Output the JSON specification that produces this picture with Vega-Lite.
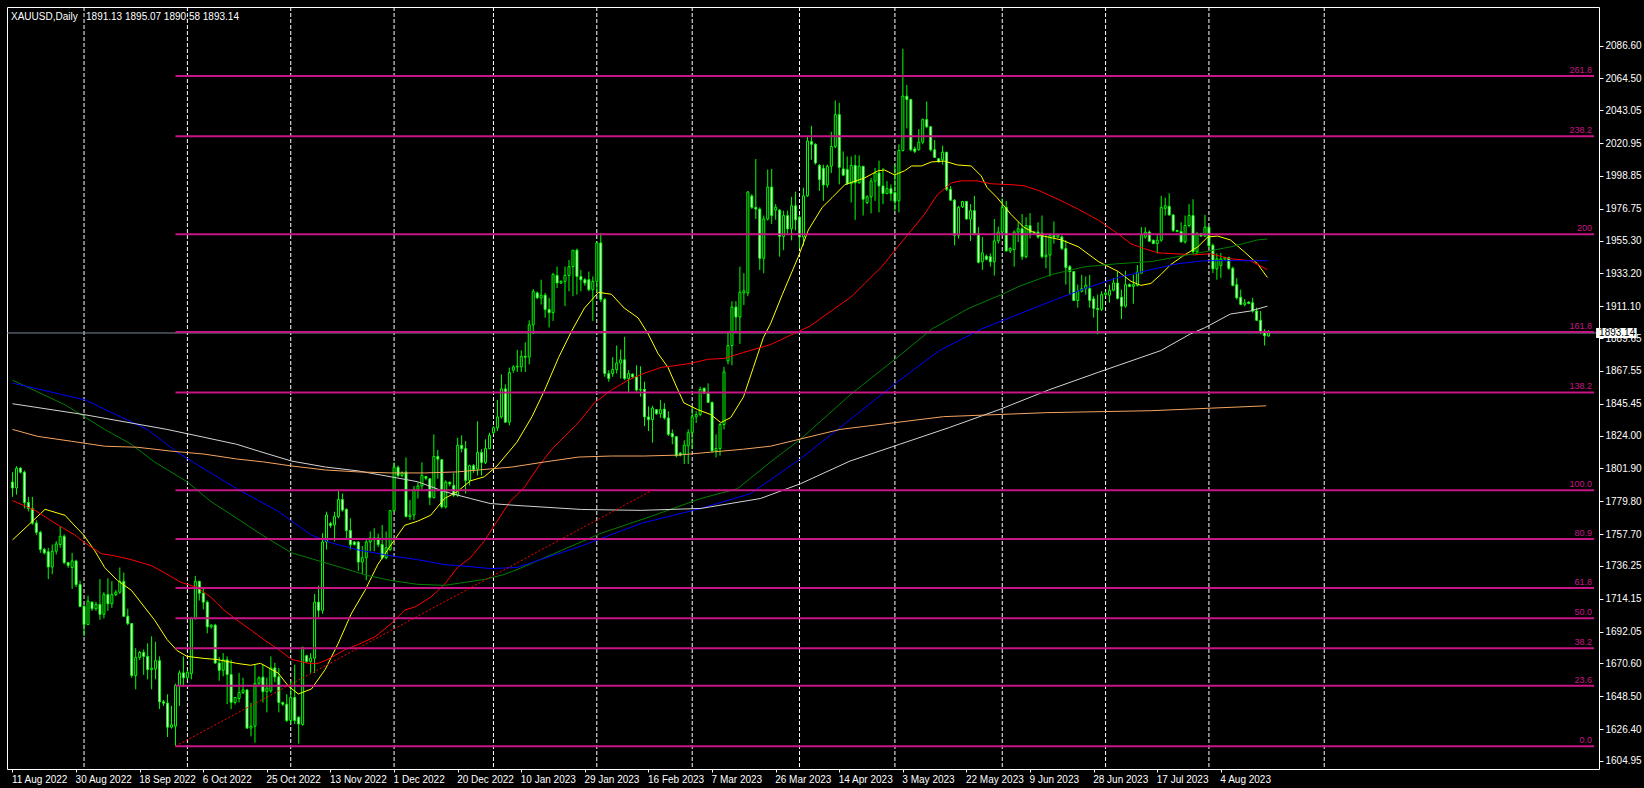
{
"$schema":"https://vega.github.io/schema/vega-lite/v6.json",
"width":1592,"height":762,
"autosize":{"type":"none"},
"padding":{"left":7,"top":7,"right":45,"bottom":19},
"background":"#000000",
"title":{"text":"XAUUSD,Daily\u00a0\u00a0 1891.13 1895.07 1890.58 1893.14","anchor":"start","frame":"group","orient":"top","offset":0,"dx":4,"dy":23,"color":"#FFFFFF","font":"Liberation Sans, Arial, sans-serif","fontSize":10,"fontWeight":"normal","baseline":"alphabetic"},
"datasets":{
"months":[{"i":18},{"i":44},{"i":70},{"i":96},{"i":121},{"i":147},{"i":171},{"i":198},{"i":222},{"i":249},{"i":275},{"i":301},{"i":330}],
"bid":[{"p":1893.14}],
"fib":[{"lvl":"0.0","p":1614.9},{"lvl":"23.6","p":1655.6},{"lvl":"38.2","p":1680.8},{"lvl":"50.0","p":1701.1},{"lvl":"61.8","p":1721.4},{"lvl":"80.9","p":1754.4},{"lvl":"100.0","p":1787.3},{"lvl":"138.2","p":1853.1},{"lvl":"161.8","p":1893.8},{"lvl":"200","p":1959.7},{"lvl":"238.2","p":2025.6},{"lvl":"261.8","p":2066.2}],
"fibline":[{"i1":41,"p1":1614.9,"i2":161,"p2":1787.3}],
"candles":[
{"i":0,"o":1792.8,"h":1799.4,"l":1782.8,"c":1788.8},
{"i":1,"o":1788.8,"h":1803.5,"l":1784.3,"c":1802.1},
{"i":2,"o":1802.1,"h":1802.8,"l":1798.5,"c":1799.4},
{"i":3,"o":1799.4,"h":1800.5,"l":1775.0,"c":1779.0},
{"i":4,"o":1779.0,"h":1782.8,"l":1773.0,"c":1775.0},
{"i":5,"o":1775.0,"h":1782.8,"l":1764.0,"c":1765.1},
{"i":6,"o":1765.1,"h":1767.0,"l":1757.0,"c":1758.9},
{"i":7,"o":1758.9,"h":1760.0,"l":1745.1,"c":1747.4},
{"i":8,"o":1747.4,"h":1748.5,"l":1744.0,"c":1745.1},
{"i":9,"o":1745.8,"h":1748.5,"l":1727.4,"c":1735.6},
{"i":10,"o":1735.6,"h":1750.7,"l":1730.7,"c":1746.2},
{"i":11,"o":1746.2,"h":1753.0,"l":1744.0,"c":1751.1},
{"i":12,"o":1750.7,"h":1762.8,"l":1748.5,"c":1756.2},
{"i":13,"o":1756.2,"h":1757.5,"l":1737.4,"c":1738.5},
{"i":14,"o":1738.5,"h":1739.0,"l":1735.0,"c":1736.7},
{"i":15,"o":1735.2,"h":1745.1,"l":1720.8,"c":1739.6},
{"i":16,"o":1739.6,"h":1740.5,"l":1722.0,"c":1723.7},
{"i":17,"o":1723.7,"h":1726.3,"l":1708.5,"c":1709.0},
{"i":18,"o":1709.0,"h":1710.0,"l":1689.1,"c":1696.9},
{"i":19,"o":1696.9,"h":1716.3,"l":1696.4,"c":1712.6},
{"i":20,"o":1711.9,"h":1712.5,"l":1706.0,"c":1707.5},
{"i":21,"o":1707.5,"h":1712.0,"l":1706.0,"c":1710.4},
{"i":22,"o":1710.4,"h":1727.4,"l":1700.0,"c":1703.7},
{"i":23,"o":1703.7,"h":1718.6,"l":1701.0,"c":1717.0},
{"i":24,"o":1717.0,"h":1728.0,"l":1706.0,"c":1710.8},
{"i":25,"o":1710.8,"h":1726.0,"l":1708.0,"c":1717.0},
{"i":26,"o":1717.0,"h":1720.0,"l":1716.0,"c":1718.6},
{"i":27,"o":1718.6,"h":1735.2,"l":1717.5,"c":1725.9},
{"i":28,"o":1725.9,"h":1731.8,"l":1701.9,"c":1702.4},
{"i":29,"o":1702.4,"h":1707.5,"l":1696.4,"c":1697.5},
{"i":30,"o":1697.5,"h":1697.9,"l":1661.0,"c":1662.5},
{"i":31,"o":1662.5,"h":1680.9,"l":1653.2,"c":1674.7},
{"i":32,"o":1674.7,"h":1679.0,"l":1673.0,"c":1678.0},
{"i":33,"o":1678.0,"h":1680.0,"l":1663.0,"c":1675.4},
{"i":34,"o":1675.4,"h":1684.2,"l":1659.9,"c":1666.5},
{"i":35,"o":1666.5,"h":1688.9,"l":1653.2,"c":1667.4},
{"i":36,"o":1666.9,"h":1685.3,"l":1659.9,"c":1672.5},
{"i":37,"o":1672.5,"h":1675.4,"l":1639.9,"c":1644.8},
{"i":38,"o":1644.8,"h":1646.0,"l":1642.0,"c":1643.9},
{"i":39,"o":1643.9,"h":1649.9,"l":1621.1,"c":1627.7},
{"i":40,"o":1627.7,"h":1642.1,"l":1626.8,"c":1629.3},
{"i":41,"o":1628.4,"h":1657.0,"l":1614.9,"c":1655.9},
{"i":42,"o":1655.9,"h":1666.0,"l":1642.0,"c":1664.3},
{"i":43,"o":1664.3,"h":1675.4,"l":1655.0,"c":1661.0},
{"i":44,"o":1661.0,"h":1666.0,"l":1660.0,"c":1664.7},
{"i":45,"o":1663.8,"h":1702.0,"l":1659.9,"c":1700.8},
{"i":46,"o":1700.8,"h":1729.6,"l":1700.2,"c":1725.9},
{"i":47,"o":1725.9,"h":1726.3,"l":1713.0,"c":1717.9},
{"i":48,"o":1717.9,"h":1722.0,"l":1707.0,"c":1711.9},
{"i":49,"o":1711.9,"h":1713.0,"l":1690.9,"c":1695.3},
{"i":50,"o":1695.3,"h":1697.0,"l":1694.0,"c":1696.4},
{"i":51,"o":1696.4,"h":1697.3,"l":1670.4,"c":1670.9},
{"i":52,"o":1670.9,"h":1675.0,"l":1659.0,"c":1666.0},
{"i":53,"o":1666.0,"h":1677.6,"l":1662.0,"c":1673.0},
{"i":54,"o":1673.0,"h":1675.4,"l":1643.2,"c":1663.2},
{"i":55,"o":1663.2,"h":1673.1,"l":1639.9,"c":1644.4},
{"i":56,"o":1644.4,"h":1648.0,"l":1643.0,"c":1647.7},
{"i":57,"o":1647.0,"h":1664.3,"l":1644.4,"c":1651.0},
{"i":58,"o":1651.0,"h":1661.0,"l":1650.0,"c":1652.8},
{"i":59,"o":1652.8,"h":1653.2,"l":1626.6,"c":1627.1},
{"i":60,"o":1627.1,"h":1644.0,"l":1621.5,"c":1628.4},
{"i":61,"o":1628.4,"h":1669.8,"l":1617.3,"c":1657.2},
{"i":62,"o":1657.2,"h":1662.0,"l":1656.0,"c":1660.9},
{"i":63,"o":1661.4,"h":1669.8,"l":1644.3,"c":1651.6},
{"i":64,"o":1651.6,"h":1661.0,"l":1637.7,"c":1654.0},
{"i":65,"o":1652.1,"h":1675.4,"l":1650.9,"c":1667.6},
{"i":66,"o":1667.6,"h":1671.0,"l":1658.0,"c":1661.6},
{"i":67,"o":1661.6,"h":1667.6,"l":1637.7,"c":1644.3},
{"i":68,"o":1644.3,"h":1645.0,"l":1642.0,"c":1643.2},
{"i":69,"o":1643.2,"h":1649.9,"l":1631.1,"c":1632.2},
{"i":70,"o":1632.2,"h":1658.7,"l":1629.9,"c":1647.7},
{"i":71,"o":1647.7,"h":1669.8,"l":1629.9,"c":1632.2},
{"i":72,"o":1634.4,"h":1635.0,"l":1616.6,"c":1629.9},
{"i":73,"o":1629.5,"h":1682.0,"l":1628.8,"c":1681.3},
{"i":74,"o":1675.8,"h":1676.5,"l":1671.0,"c":1672.0},
{"i":75,"o":1672.0,"h":1677.6,"l":1664.3,"c":1674.2},
{"i":76,"o":1674.2,"h":1717.4,"l":1664.3,"c":1711.9},
{"i":77,"o":1711.9,"h":1723.0,"l":1701.9,"c":1706.4},
{"i":78,"o":1706.4,"h":1758.4,"l":1704.1,"c":1752.4},
{"i":79,"o":1752.4,"h":1772.8,"l":1747.3,"c":1770.6},
{"i":80,"o":1764.8,"h":1766.0,"l":1762.0,"c":1763.5},
{"i":81,"o":1763.9,"h":1772.8,"l":1752.9,"c":1769.5},
{"i":82,"o":1769.5,"h":1787.2,"l":1768.4,"c":1781.0},
{"i":83,"o":1781.0,"h":1785.0,"l":1772.8,"c":1773.9},
{"i":84,"o":1774.4,"h":1775.0,"l":1755.1,"c":1760.2},
{"i":85,"o":1760.2,"h":1768.4,"l":1747.3,"c":1750.7},
{"i":86,"o":1752.4,"h":1753.0,"l":1750.0,"c":1750.7},
{"i":87,"o":1752.4,"h":1752.9,"l":1732.9,"c":1738.9},
{"i":88,"o":1738.9,"h":1749.6,"l":1730.7,"c":1741.8},
{"i":89,"o":1741.8,"h":1755.1,"l":1726.7,"c":1752.4},
{"i":90,"o":1752.4,"h":1759.5,"l":1746.2,"c":1755.1},
{"i":91,"o":1755.1,"h":1761.7,"l":1746.2,"c":1754.0},
{"i":92,"o":1755.1,"h":1758.0,"l":1749.0,"c":1750.7},
{"i":93,"o":1750.7,"h":1763.9,"l":1740.7,"c":1741.8},
{"i":94,"o":1741.8,"h":1759.5,"l":1740.7,"c":1748.5},
{"i":95,"o":1747.3,"h":1774.0,"l":1746.2,"c":1773.5},
{"i":96,"o":1773.5,"h":1806.0,"l":1772.8,"c":1802.7},
{"i":97,"o":1802.7,"h":1803.8,"l":1796.1,"c":1797.2},
{"i":98,"o":1797.2,"h":1800.0,"l":1796.0,"c":1799.0},
{"i":99,"o":1799.5,"h":1809.4,"l":1769.0,"c":1769.5},
{"i":100,"o":1769.5,"h":1780.6,"l":1767.3,"c":1770.6},
{"i":101,"o":1770.6,"h":1790.1,"l":1767.3,"c":1787.9},
{"i":102,"o":1787.9,"h":1792.7,"l":1781.7,"c":1790.1},
{"i":103,"o":1790.1,"h":1806.0,"l":1788.0,"c":1797.2},
{"i":104,"o":1796.5,"h":1797.0,"l":1794.0,"c":1795.4},
{"i":105,"o":1795.0,"h":1795.5,"l":1777.2,"c":1782.3},
{"i":106,"o":1782.3,"h":1824.9,"l":1781.7,"c":1810.0},
{"i":107,"o":1810.0,"h":1814.4,"l":1795.0,"c":1808.2},
{"i":108,"o":1807.8,"h":1808.2,"l":1775.0,"c":1776.1},
{"i":109,"o":1776.1,"h":1793.9,"l":1775.0,"c":1792.7},
{"i":110,"o":1792.7,"h":1793.0,"l":1790.0,"c":1791.6},
{"i":111,"o":1790.5,"h":1799.0,"l":1782.8,"c":1783.9},
{"i":112,"o":1783.9,"h":1822.6,"l":1782.8,"c":1817.5},
{"i":113,"o":1817.5,"h":1824.2,"l":1812.7,"c":1815.3},
{"i":114,"o":1815.3,"h":1820.4,"l":1785.0,"c":1793.9},
{"i":115,"o":1793.9,"h":1804.5,"l":1790.5,"c":1803.8},
{"i":116,"o":1803.8,"h":1804.9,"l":1799.0,"c":1801.1},
{"i":117,"o":1801.6,"h":1833.7,"l":1797.2,"c":1812.7},
{"i":118,"o":1812.7,"h":1814.9,"l":1797.2,"c":1806.0},
{"i":119,"o":1806.0,"h":1821.5,"l":1804.9,"c":1815.3},
{"i":120,"o":1815.3,"h":1826.0,"l":1814.9,"c":1824.2},
{"i":121,"o":1826.0,"h":1830.4,"l":1824.9,"c":1829.3},
{"i":122,"o":1829.3,"h":1848.1,"l":1827.1,"c":1836.6},
{"i":123,"o":1836.6,"h":1865.3,"l":1835.5,"c":1855.5},
{"i":124,"o":1855.5,"h":1858.5,"l":1832.6,"c":1833.1},
{"i":125,"o":1833.1,"h":1869.8,"l":1830.9,"c":1866.5},
{"i":126,"o":1868.1,"h":1871.4,"l":1866.3,"c":1870.3},
{"i":127,"o":1870.3,"h":1881.8,"l":1866.9,"c":1870.7},
{"i":128,"o":1870.3,"h":1881.4,"l":1866.9,"c":1877.4},
{"i":129,"o":1877.4,"h":1886.9,"l":1866.9,"c":1876.9},
{"i":130,"o":1876.9,"h":1901.7,"l":1872.0,"c":1898.6},
{"i":131,"o":1898.6,"h":1922.8,"l":1892.4,"c":1921.2},
{"i":132,"o":1920.1,"h":1921.0,"l":1916.0,"c":1916.8},
{"i":133,"o":1916.8,"h":1929.0,"l":1912.3,"c":1918.6},
{"i":134,"o":1918.6,"h":1920.1,"l":1903.5,"c":1909.0},
{"i":135,"o":1909.0,"h":1916.8,"l":1896.9,"c":1906.8},
{"i":136,"o":1906.8,"h":1933.4,"l":1901.3,"c":1932.7},
{"i":137,"o":1931.9,"h":1937.8,"l":1923.4,"c":1926.8},
{"i":138,"o":1926.8,"h":1928.5,"l":1926.1,"c":1927.9},
{"i":139,"o":1927.9,"h":1937.8,"l":1911.2,"c":1931.9},
{"i":140,"o":1931.9,"h":1942.3,"l":1921.2,"c":1937.8},
{"i":141,"o":1937.8,"h":1949.0,"l":1917.9,"c":1948.9},
{"i":142,"o":1948.9,"h":1950.0,"l":1919.0,"c":1931.2},
{"i":143,"o":1931.2,"h":1935.6,"l":1921.2,"c":1929.0},
{"i":144,"o":1929.0,"h":1930.1,"l":1925.0,"c":1926.8},
{"i":145,"o":1929.0,"h":1934.5,"l":1921.2,"c":1922.3},
{"i":146,"o":1922.3,"h":1931.2,"l":1901.3,"c":1927.9},
{"i":147,"o":1927.9,"h":1954.5,"l":1921.2,"c":1953.8},
{"i":148,"o":1953.8,"h":1960.4,"l":1914.0,"c":1915.7},
{"i":149,"o":1915.7,"h":1916.8,"l":1863.6,"c":1865.8},
{"i":150,"o":1865.8,"h":1868.1,"l":1860.3,"c":1862.5},
{"i":151,"o":1865.8,"h":1876.9,"l":1863.6,"c":1868.5},
{"i":152,"o":1868.5,"h":1884.7,"l":1865.8,"c":1872.9},
{"i":153,"o":1872.9,"h":1882.0,"l":1862.5,"c":1875.1},
{"i":154,"o":1875.1,"h":1890.6,"l":1861.4,"c":1862.5},
{"i":155,"o":1862.5,"h":1868.1,"l":1853.0,"c":1865.8},
{"i":156,"o":1865.4,"h":1866.0,"l":1863.0,"c":1863.6},
{"i":157,"o":1863.6,"h":1871.4,"l":1853.6,"c":1854.7},
{"i":158,"o":1854.7,"h":1870.7,"l":1850.3,"c":1855.2},
{"i":159,"o":1855.2,"h":1860.3,"l":1830.4,"c":1836.6},
{"i":160,"o":1836.6,"h":1843.7,"l":1827.1,"c":1834.8},
{"i":161,"o":1834.8,"h":1844.1,"l":1819.3,"c":1842.6},
{"i":162,"o":1841.5,"h":1842.0,"l":1838.0,"c":1838.8},
{"i":163,"o":1838.8,"h":1848.1,"l":1835.9,"c":1841.5},
{"i":164,"o":1841.9,"h":1845.9,"l":1834.8,"c":1835.9},
{"i":165,"o":1835.9,"h":1840.4,"l":1823.8,"c":1824.9},
{"i":166,"o":1825.5,"h":1828.2,"l":1818.2,"c":1823.3},
{"i":167,"o":1823.3,"h":1823.8,"l":1809.4,"c":1810.5},
{"i":168,"o":1812.2,"h":1813.0,"l":1810.0,"c":1810.9},
{"i":169,"o":1811.6,"h":1820.9,"l":1804.9,"c":1817.6},
{"i":170,"o":1817.1,"h":1828.2,"l":1804.9,"c":1826.0},
{"i":171,"o":1826.0,"h":1843.7,"l":1814.9,"c":1836.6},
{"i":172,"o":1836.6,"h":1840.4,"l":1832.6,"c":1838.2},
{"i":173,"o":1838.2,"h":1857.0,"l":1837.0,"c":1855.2},
{"i":174,"o":1855.9,"h":1856.5,"l":1852.1,"c":1852.6},
{"i":175,"o":1852.6,"h":1859.2,"l":1846.0,"c":1846.4},
{"i":176,"o":1846.4,"h":1847.0,"l":1812.7,"c":1813.8},
{"i":177,"o":1813.8,"h":1824.9,"l":1809.4,"c":1815.3},
{"i":178,"o":1815.3,"h":1832.6,"l":1810.5,"c":1831.5},
{"i":179,"o":1831.5,"h":1870.3,"l":1828.2,"c":1866.9},
{"i":180,"o":1874.3,"h":1894.6,"l":1872.0,"c":1884.7},
{"i":181,"o":1884.7,"h":1914.6,"l":1871.4,"c":1910.6},
{"i":182,"o":1910.6,"h":1914.6,"l":1894.6,"c":1903.9},
{"i":183,"o":1903.9,"h":1937.8,"l":1885.8,"c":1920.6},
{"i":184,"o":1920.1,"h":1933.4,"l":1912.0,"c":1921.5},
{"i":185,"o":1920.1,"h":1988.6,"l":1917.9,"c":1988.1},
{"i":186,"o":1985.4,"h":1986.6,"l":1976.6,"c":1977.7},
{"i":187,"o":1977.7,"h":2010.3,"l":1969.9,"c":1976.6},
{"i":188,"o":1976.6,"h":1977.7,"l":1935.6,"c":1943.4},
{"i":189,"o":1943.4,"h":1972.2,"l":1933.4,"c":1969.9},
{"i":190,"o":1969.9,"h":2003.2,"l":1968.9,"c":1991.4},
{"i":191,"o":1991.4,"h":2003.6,"l":1966.6,"c":1972.2},
{"i":192,"o":1975.9,"h":1979.9,"l":1969.3,"c":1977.7},
{"i":193,"o":1975.9,"h":1976.5,"l":1944.5,"c":1958.2},
{"i":194,"o":1958.2,"h":1975.5,"l":1948.9,"c":1972.2},
{"i":195,"o":1972.2,"h":1975.5,"l":1960.0,"c":1963.3},
{"i":196,"o":1963.3,"h":1984.8,"l":1955.5,"c":1978.8},
{"i":197,"o":1978.8,"h":1988.3,"l":1962.2,"c":1969.3},
{"i":198,"o":1971.1,"h":1972.2,"l":1950.0,"c":1957.8},
{"i":199,"o":1957.8,"h":1991.0,"l":1952.0,"c":1985.5},
{"i":200,"o":1985.5,"h":2025.3,"l":1984.8,"c":2022.4},
{"i":201,"o":2022.0,"h":2032.6,"l":2009.8,"c":2020.2},
{"i":202,"o":2020.2,"h":2020.9,"l":2006.5,"c":2007.6},
{"i":203,"o":2006.0,"h":2006.9,"l":1988.8,"c":1996.5},
{"i":204,"o":2004.0,"h":2006.5,"l":1982.1,"c":1992.8},
{"i":205,"o":1992.8,"h":2006.5,"l":1991.0,"c":2005.4},
{"i":206,"o":2005.4,"h":2028.6,"l":2000.9,"c":2018.7},
{"i":207,"o":2018.7,"h":2049.7,"l":2017.6,"c":2040.2},
{"i":208,"o":2040.2,"h":2048.1,"l":1993.2,"c":2004.7},
{"i":209,"o":2003.6,"h":2015.4,"l":1998.7,"c":1999.4},
{"i":210,"o":2003.2,"h":2012.0,"l":1993.0,"c":1993.6},
{"i":211,"o":1993.6,"h":2012.0,"l":1981.0,"c":2006.0},
{"i":212,"o":2006.0,"h":2013.1,"l":1969.3,"c":1994.3},
{"i":213,"o":1994.3,"h":2012.7,"l":1993.6,"c":2005.4},
{"i":214,"o":2005.4,"h":2005.4,"l":1972.2,"c":1983.2},
{"i":215,"o":1981.0,"h":1985.9,"l":1979.9,"c":1984.8},
{"i":216,"o":1984.8,"h":1997.6,"l":1973.7,"c":1995.4},
{"i":217,"o":1995.4,"h":2004.3,"l":1982.1,"c":2000.9},
{"i":218,"o":2000.9,"h":2009.2,"l":1974.4,"c":1992.1},
{"i":219,"o":1992.1,"h":2004.3,"l":1979.9,"c":1987.0},
{"i":220,"o":1987.0,"h":1995.4,"l":1986.6,"c":1990.3},
{"i":221,"o":1990.3,"h":1993.2,"l":1982.1,"c":1987.0},
{"i":222,"o":1987.7,"h":2006.5,"l":1975.5,"c":1981.7},
{"i":223,"o":1982.1,"h":2020.2,"l":1974.4,"c":2016.0},
{"i":224,"o":2016.0,"h":2084.5,"l":2015.4,"c":2052.6},
{"i":225,"o":2052.6,"h":2060.1,"l":2030.9,"c":2050.3},
{"i":226,"o":2050.3,"h":2050.8,"l":2015.4,"c":2016.5},
{"i":227,"o":2017.1,"h":2018.7,"l":2014.2,"c":2015.4},
{"i":228,"o":2016.5,"h":2030.4,"l":2016.0,"c":2021.6},
{"i":229,"o":2021.6,"h":2037.5,"l":2020.2,"c":2036.8},
{"i":230,"o":2036.8,"h":2049.0,"l":2031.0,"c":2032.0},
{"i":231,"o":2032.0,"h":2032.5,"l":2015.4,"c":2016.5},
{"i":232,"o":2016.5,"h":2023.1,"l":2010.9,"c":2011.4},
{"i":233,"o":2010.5,"h":2011.0,"l":2008.0,"c":2008.3},
{"i":234,"o":2009.8,"h":2019.3,"l":2006.5,"c":2014.9},
{"i":235,"o":2014.9,"h":2015.0,"l":1988.8,"c":1989.9},
{"i":236,"o":1989.9,"h":1992.1,"l":1982.1,"c":1982.6},
{"i":237,"o":1982.6,"h":1983.2,"l":1952.2,"c":1958.9},
{"i":238,"o":1958.9,"h":1978.8,"l":1956.7,"c":1977.7},
{"i":239,"o":1978.1,"h":1982.1,"l":1977.3,"c":1981.7},
{"i":240,"o":1981.7,"h":1982.1,"l":1969.3,"c":1969.9},
{"i":241,"o":1969.9,"h":1979.9,"l":1955.1,"c":1975.5},
{"i":242,"o":1975.5,"h":1985.5,"l":1958.9,"c":1960.0},
{"i":243,"o":1960.0,"h":1964.4,"l":1940.0,"c":1940.7},
{"i":244,"o":1941.1,"h":1957.8,"l":1935.6,"c":1947.1},
{"i":245,"o":1944.9,"h":1946.0,"l":1942.0,"c":1942.7},
{"i":246,"o":1944.5,"h":1946.7,"l":1937.8,"c":1941.1},
{"i":247,"o":1941.1,"h":1969.9,"l":1931.8,"c":1955.1},
{"i":248,"o":1955.1,"h":1964.8,"l":1953.3,"c":1961.1},
{"i":249,"o":1961.1,"h":1983.7,"l":1958.9,"c":1977.7},
{"i":250,"o":1977.7,"h":1982.1,"l":1947.8,"c":1948.4},
{"i":251,"o":1948.4,"h":1951.0,"l":1947.0,"c":1950.0},
{"i":252,"o":1949.3,"h":1962.2,"l":1937.8,"c":1961.1},
{"i":253,"o":1961.1,"h":1967.7,"l":1954.4,"c":1963.3},
{"i":254,"o":1963.3,"h":1973.3,"l":1942.3,"c":1944.5},
{"i":255,"o":1944.5,"h":1971.1,"l":1943.4,"c":1965.5},
{"i":256,"o":1965.5,"h":1973.9,"l":1956.7,"c":1960.6},
{"i":257,"o":1960.6,"h":1962.0,"l":1959.5,"c":1961.1},
{"i":258,"o":1961.1,"h":1967.7,"l":1956.7,"c":1957.8},
{"i":259,"o":1960.4,"h":1972.2,"l":1943.4,"c":1944.5},
{"i":260,"o":1944.5,"h":1958.9,"l":1936.7,"c":1945.6},
{"i":261,"o":1945.6,"h":1960.0,"l":1931.2,"c":1958.9},
{"i":262,"o":1958.9,"h":1968.2,"l":1953.3,"c":1957.8},
{"i":263,"o":1957.8,"h":1959.5,"l":1957.0,"c":1958.9},
{"i":264,"o":1957.8,"h":1958.9,"l":1948.9,"c":1950.0},
{"i":265,"o":1950.0,"h":1955.6,"l":1925.7,"c":1937.2},
{"i":266,"o":1937.8,"h":1938.9,"l":1919.0,"c":1934.5},
{"i":267,"o":1934.5,"h":1934.5,"l":1914.6,"c":1915.0},
{"i":268,"o":1915.0,"h":1925.7,"l":1910.2,"c":1921.2},
{"i":269,"o":1921.2,"h":1932.3,"l":1920.5,"c":1923.0},
{"i":270,"o":1923.0,"h":1931.2,"l":1919.0,"c":1925.2},
{"i":271,"o":1923.0,"h":1932.3,"l":1910.2,"c":1915.0},
{"i":272,"o":1916.1,"h":1917.9,"l":1903.5,"c":1909.7},
{"i":273,"o":1909.7,"h":1919.0,"l":1892.4,"c":1909.0},
{"i":274,"o":1909.0,"h":1921.2,"l":1907.9,"c":1919.0},
{"i":275,"o":1919.0,"h":1921.0,"l":1918.0,"c":1920.1},
{"i":276,"o":1918.6,"h":1925.7,"l":1913.5,"c":1921.9},
{"i":277,"o":1921.9,"h":1930.1,"l":1921.2,"c":1926.8},
{"i":278,"o":1926.8,"h":1934.5,"l":1915.7,"c":1916.4},
{"i":279,"o":1917.2,"h":1922.3,"l":1902.4,"c":1911.2},
{"i":280,"o":1911.2,"h":1935.0,"l":1910.2,"c":1925.7},
{"i":281,"o":1925.7,"h":1926.5,"l":1924.0,"c":1924.5},
{"i":282,"o":1924.5,"h":1932.3,"l":1912.8,"c":1925.7},
{"i":283,"o":1925.2,"h":1938.9,"l":1924.5,"c":1934.1},
{"i":284,"o":1933.4,"h":1964.4,"l":1933.4,"c":1958.9},
{"i":285,"o":1957.8,"h":1964.4,"l":1956.7,"c":1961.1},
{"i":286,"o":1961.1,"h":1962.2,"l":1954.5,"c":1954.9},
{"i":287,"o":1955.6,"h":1956.0,"l":1953.0,"c":1953.3},
{"i":288,"o":1953.3,"h":1960.0,"l":1946.7,"c":1955.6},
{"i":289,"o":1955.6,"h":1985.5,"l":1954.5,"c":1977.7},
{"i":290,"o":1977.0,"h":1984.3,"l":1972.2,"c":1978.8},
{"i":291,"o":1978.4,"h":1987.2,"l":1972.2,"c":1972.6},
{"i":292,"o":1972.6,"h":1973.3,"l":1961.1,"c":1962.2},
{"i":293,"o":1962.2,"h":1962.5,"l":1961.0,"c":1961.5},
{"i":294,"o":1961.5,"h":1967.7,"l":1954.0,"c":1954.5},
{"i":295,"o":1954.5,"h":1972.2,"l":1953.3,"c":1965.5},
{"i":296,"o":1965.5,"h":1979.9,"l":1964.4,"c":1972.2},
{"i":297,"o":1972.2,"h":1983.2,"l":1946.7,"c":1947.8},
{"i":298,"o":1947.8,"h":1961.1,"l":1945.6,"c":1960.0},
{"i":299,"o":1960.0,"h":1960.5,"l":1958.0,"c":1958.4},
{"i":300,"o":1958.4,"h":1972.6,"l":1957.8,"c":1964.4},
{"i":301,"o":1964.4,"h":1964.5,"l":1950.0,"c":1951.8},
{"i":302,"o":1952.2,"h":1953.3,"l":1933.4,"c":1936.3},
{"i":303,"o":1936.3,"h":1946.7,"l":1929.0,"c":1943.0},
{"i":304,"o":1938.5,"h":1947.1,"l":1930.1,"c":1943.0},
{"i":305,"o":1943.0,"h":1944.5,"l":1942.5,"c":1943.8},
{"i":306,"o":1943.8,"h":1944.5,"l":1935.6,"c":1936.7},
{"i":307,"o":1936.7,"h":1937.8,"l":1924.5,"c":1925.2},
{"i":308,"o":1925.7,"h":1930.1,"l":1915.7,"c":1916.8},
{"i":309,"o":1917.2,"h":1922.3,"l":1912.0,"c":1912.4},
{"i":310,"o":1912.4,"h":1916.0,"l":1911.0,"c":1913.5},
{"i":311,"o":1913.9,"h":1914.5,"l":1912.5,"c":1913.0},
{"i":312,"o":1913.5,"h":1916.8,"l":1906.8,"c":1907.9},
{"i":313,"o":1907.9,"h":1910.2,"l":1901.3,"c":1901.7},
{"i":314,"o":1901.7,"h":1907.9,"l":1892.4,"c":1893.5},
{"i":315,"o":1893.8,"h":1895.7,"l":1884.7,"c":1891.3},
{"i":316,"o":1891.13,"h":1895.07,"l":1890.58,"c":1893.14}
],
"ma":[
{"s":"yellow","i":0,"v":1753.8},{"s":"yellow","i":8.2,"v":1774.4},{"s":"yellow","i":13.2,"v":1770.4},{"s":"yellow","i":16.2,"v":1761.8},{"s":"yellow","i":17.9,"v":1757.1},{"s":"yellow","i":20.7,"v":1746.5},{"s":"yellow","i":23.2,"v":1735.2},{"s":"yellow","i":26.4,"v":1726.5},{"s":"yellow","i":29.9,"v":1719.9},{"s":"yellow","i":33.2,"v":1708.6},{"s":"yellow","i":35.7,"v":1700},{"s":"yellow","i":38.9,"v":1686.7},{"s":"yellow","i":41.4,"v":1679.3},{"s":"yellow","i":43.9,"v":1675.4},{"s":"yellow","i":48.2,"v":1674},{"s":"yellow","i":51.4,"v":1673.3},{"s":"yellow","i":56.4,"v":1670.7},{"s":"yellow","i":59.9,"v":1669.4},{"s":"yellow","i":62.4,"v":1670.7},{"s":"yellow","i":66.9,"v":1664},{"s":"yellow","i":69.4,"v":1655.4},{"s":"yellow","i":71.9,"v":1650.1},{"s":"yellow","i":75.2,"v":1653.4},{"s":"yellow","i":78.7,"v":1666.7},{"s":"yellow","i":81.9,"v":1683.9},{"s":"yellow","i":85.2,"v":1703.9},{"s":"yellow","i":88.7,"v":1719.9},{"s":"yellow","i":91.9,"v":1737.2},{"s":"yellow","i":95.2,"v":1750.4},{"s":"yellow","i":98.7,"v":1763.7},{"s":"yellow","i":101.9,"v":1766.4},{"s":"yellow","i":105.2,"v":1770.4},{"s":"yellow","i":108.7,"v":1781.7},{"s":"yellow","i":111.9,"v":1786.3},{"s":"yellow","i":115.2,"v":1793.6},{"s":"yellow","i":118.7,"v":1796.3},{"s":"yellow","i":121.9,"v":1803.6},{"s":"yellow","i":126.9,"v":1819.6},{"s":"yellow","i":130.7,"v":1836.8},{"s":"yellow","i":133.9,"v":1854.8},{"s":"yellow","i":137.4,"v":1876.7},{"s":"yellow","i":140.7,"v":1894.6},{"s":"yellow","i":143.9,"v":1909.9},{"s":"yellow","i":147.4,"v":1920.5},{"s":"yellow","i":150.7,"v":1919.2},{"s":"yellow","i":153.9,"v":1909.9},{"s":"yellow","i":157.4,"v":1903.3},{"s":"yellow","i":159.9,"v":1892.6},{"s":"yellow","i":162.4,"v":1879.3},{"s":"yellow","i":164.9,"v":1870},{"s":"yellow","i":167.4,"v":1854.8},{"s":"yellow","i":168.9,"v":1846.1},{"s":"yellow","i":172.4,"v":1841.5},{"s":"yellow","i":175.7,"v":1838.2},{"s":"yellow","i":178.2,"v":1832.8},{"s":"yellow","i":180.7,"v":1836.2},{"s":"yellow","i":183.9,"v":1850.1},{"s":"yellow","i":186.4,"v":1870},{"s":"yellow","i":188.9,"v":1890},{"s":"yellow","i":190.7,"v":1899.3},{"s":"yellow","i":193.7,"v":1919.2},{"s":"yellow","i":197.7,"v":1944.5},{"s":"yellow","i":200.2,"v":1962.4},{"s":"yellow","i":203.7,"v":1977.7},{"s":"yellow","i":206.2,"v":1984.3},{"s":"yellow","i":209.4,"v":1993},{"s":"yellow","i":214.4,"v":1997.6},{"s":"yellow","i":217.7,"v":2002.3},{"s":"yellow","i":219.4,"v":2002.9},{"s":"yellow","i":221.9,"v":1999.6},{"s":"yellow","i":224.4,"v":2002.3},{"s":"yellow","i":226.2,"v":2005.6},{"s":"yellow","i":228.7,"v":2005.6},{"s":"yellow","i":231.2,"v":2008.3},{"s":"yellow","i":234.4,"v":2008.9},{"s":"yellow","i":237.7,"v":2006.3},{"s":"yellow","i":241.2,"v":2005.6},{"s":"yellow","i":243.7,"v":1998.9},{"s":"yellow","i":245.2,"v":1991},{"s":"yellow","i":247.7,"v":1984.3},{"s":"yellow","i":251.2,"v":1973},{"s":"yellow","i":254.4,"v":1964.4},{"s":"yellow","i":258.2,"v":1959.1},{"s":"yellow","i":263.9,"v":1955.8},{"s":"yellow","i":268.2,"v":1951.1},{"s":"yellow","i":273.2,"v":1941.2},{"s":"yellow","i":278.2,"v":1934.5},{"s":"yellow","i":281.4,"v":1927.9},{"s":"yellow","i":283.9,"v":1925.2},{"s":"yellow","i":286.4,"v":1926.5},{"s":"yellow","i":288.9,"v":1932.5},{"s":"yellow","i":291.4,"v":1939.2},{"s":"yellow","i":294.9,"v":1945.8},{"s":"yellow","i":298.2,"v":1951.1},{"s":"yellow","i":300.7,"v":1957.8},{"s":"yellow","i":303.2,"v":1958.4},{"s":"yellow","i":306.4,"v":1955.8},{"s":"yellow","i":309.9,"v":1947.8},{"s":"yellow","i":313.2,"v":1939.8},{"s":"yellow","i":315.7,"v":1930.5},
{"s":"red","i":0,"v":1780.3},{"s":"red","i":5.7,"v":1773.7},{"s":"red","i":10.7,"v":1765},{"s":"red","i":15.7,"v":1757.1},{"s":"red","i":18.2,"v":1751.8},{"s":"red","i":22.4,"v":1744.5},{"s":"red","i":25.7,"v":1743.1},{"s":"red","i":29.9,"v":1740.5},{"s":"red","i":34.9,"v":1736.5},{"s":"red","i":38.2,"v":1731.8},{"s":"red","i":42.4,"v":1725.2},{"s":"red","i":46.4,"v":1721.9},{"s":"red","i":49.9,"v":1715.2},{"s":"red","i":53.2,"v":1706.6},{"s":"red","i":56.4,"v":1699.9},{"s":"red","i":59.9,"v":1693.3},{"s":"red","i":63.2,"v":1686.7},{"s":"red","i":66.9,"v":1680},{"s":"red","i":70.2,"v":1673.4},{"s":"red","i":74.4,"v":1670.7},{"s":"red","i":76.9,"v":1670.7},{"s":"red","i":79.4,"v":1673.4},{"s":"red","i":83.7,"v":1680},{"s":"red","i":86.9,"v":1683.3},{"s":"red","i":91.2,"v":1688.6},{"s":"red","i":95.2,"v":1697.3},{"s":"red","i":98.7,"v":1706.6},{"s":"red","i":101.2,"v":1708.6},{"s":"red","i":105.2,"v":1715.2},{"s":"red","i":108.7,"v":1723.9},{"s":"red","i":111.9,"v":1735.2},{"s":"red","i":115.2,"v":1741.8},{"s":"red","i":118.7,"v":1753.1},{"s":"red","i":121.9,"v":1766.4},{"s":"red","i":125.2,"v":1779.7},{"s":"red","i":128.9,"v":1789.6},{"s":"red","i":132.4,"v":1803.6},{"s":"red","i":135.7,"v":1814.9},{"s":"red","i":138.9,"v":1823.5},{"s":"red","i":142.4,"v":1832.8},{"s":"red","i":146.4,"v":1846.1},{"s":"red","i":150.7,"v":1854.8},{"s":"red","i":154.9,"v":1861.4},{"s":"red","i":158.9,"v":1866},{"s":"red","i":163.2,"v":1870},{"s":"red","i":167.4,"v":1871.4},{"s":"red","i":170.7,"v":1872.7},{"s":"red","i":174.9,"v":1875.4},{"s":"red","i":178.9,"v":1876},{"s":"red","i":183.9,"v":1880},{"s":"red","i":190.7,"v":1885.3},{"s":"red","i":200.7,"v":1897.9},{"s":"red","i":211.2,"v":1917.9},{"s":"red","i":214.4,"v":1926.5},{"s":"red","i":218.7,"v":1937.8},{"s":"red","i":222.7,"v":1951.1},{"s":"red","i":226.2,"v":1962.4},{"s":"red","i":229.4,"v":1973},{"s":"red","i":232.7,"v":1986.3},{"s":"red","i":236.2,"v":1994.3},{"s":"red","i":238.7,"v":1995.6},{"s":"red","i":242.7,"v":1995.6},{"s":"red","i":246.2,"v":1993.6},{"s":"red","i":251.2,"v":1993},{"s":"red","i":254.4,"v":1992.3},{"s":"red","i":258.2,"v":1989},{"s":"red","i":263.2,"v":1983},{"s":"red","i":268.2,"v":1976.4},{"s":"red","i":273.2,"v":1969.1},{"s":"red","i":278.2,"v":1959.8},{"s":"red","i":281.4,"v":1953.1},{"s":"red","i":284.9,"v":1949.8},{"s":"red","i":288.2,"v":1947.1},{"s":"red","i":292.4,"v":1946.5},{"s":"red","i":297.4,"v":1945.8},{"s":"red","i":301.4,"v":1946.5},{"s":"red","i":306.4,"v":1943.1},{"s":"red","i":311.4,"v":1941.8},{"s":"red","i":315.7,"v":1935.8},
{"s":"green","i":0,"v":1861.4},{"s":"green","i":13.2,"v":1844.8},{"s":"green","i":23.2,"v":1828.2},{"s":"green","i":29.9,"v":1818.2},{"s":"green","i":35.7,"v":1806.3},{"s":"green","i":43.9,"v":1793},{"s":"green","i":49.9,"v":1779.7},{"s":"green","i":56.4,"v":1768.4},{"s":"green","i":63.2,"v":1756.4},{"s":"green","i":70.2,"v":1745.1},{"s":"green","i":76.9,"v":1739.8},{"s":"green","i":82.7,"v":1735.2},{"s":"green","i":89.4,"v":1729.8},{"s":"green","i":95.2,"v":1726.5},{"s":"green","i":101.9,"v":1723.9},{"s":"green","i":108.7,"v":1723.2},{"s":"green","i":113.7,"v":1725.2},{"s":"green","i":118.7,"v":1727.2},{"s":"green","i":123.7,"v":1730.5},{"s":"green","i":126.9,"v":1733.8},{"s":"green","i":148.2,"v":1758.4},{"s":"green","i":160.7,"v":1769.7},{"s":"green","i":173.2,"v":1781.7},{"s":"green","i":182.4,"v":1788.3},{"s":"green","i":190.7,"v":1806.3},{"s":"green","i":198.2,"v":1821.5},{"s":"green","i":210.7,"v":1851.4},{"s":"green","i":223.2,"v":1878},{"s":"green","i":231.4,"v":1896},{"s":"green","i":240.7,"v":1909.9},{"s":"green","i":249,"v":1919.2},{"s":"green","i":253.2,"v":1924.5},{"s":"green","i":261.4,"v":1932.5},{"s":"green","i":269.9,"v":1937.8},{"s":"green","i":278.2,"v":1939.8},{"s":"green","i":286.4,"v":1941.2},{"s":"green","i":293.2,"v":1944.5},{"s":"green","i":299.9,"v":1947.8},{"s":"green","i":306.4,"v":1951.1},{"s":"green","i":313.2,"v":1955.8},{"s":"green","i":315.7,"v":1956.4},
{"s":"blue","i":0,"v":1859.4},{"s":"blue","i":18.2,"v":1848.1},{"s":"blue","i":33.9,"v":1828.2},{"s":"blue","i":41.4,"v":1812.9},{"s":"blue","i":48.2,"v":1801.6},{"s":"blue","i":56.4,"v":1788.3},{"s":"blue","i":61.9,"v":1780.3},{"s":"blue","i":66.9,"v":1773},{"s":"blue","i":70.2,"v":1766.4},{"s":"blue","i":75.2,"v":1757.1},{"s":"blue","i":80.2,"v":1751.8},{"s":"blue","i":86.9,"v":1747.1},{"s":"blue","i":95.2,"v":1743.1},{"s":"blue","i":101.9,"v":1740.5},{"s":"blue","i":108.7,"v":1737.2},{"s":"blue","i":115.2,"v":1735.8},{"s":"blue","i":120.2,"v":1734.5},{"s":"blue","i":126.9,"v":1735.2},{"s":"blue","i":143.2,"v":1749.8},{"s":"blue","i":158.2,"v":1765},{"s":"blue","i":173.2,"v":1775},{"s":"blue","i":185.7,"v":1785},{"s":"blue","i":198.2,"v":1808.3},{"s":"blue","i":210.7,"v":1834.8},{"s":"blue","i":223.2,"v":1861.4},{"s":"blue","i":233.2,"v":1881.3},{"s":"blue","i":243.9,"v":1896},{"s":"blue","i":253.2,"v":1905.9},{"s":"blue","i":261.4,"v":1914.6},{"s":"blue","i":269.9,"v":1923.2},{"s":"blue","i":278.2,"v":1930.5},{"s":"blue","i":286.4,"v":1935.8},{"s":"blue","i":293.2,"v":1939.8},{"s":"blue","i":299.9,"v":1941.8},{"s":"blue","i":308.2,"v":1941.8},{"s":"blue","i":315.7,"v":1941.8},
{"s":"white","i":0,"v":1845.5},{"s":"white","i":18.2,"v":1838.1},{"s":"white","i":38.9,"v":1828.2},{"s":"white","i":48.2,"v":1822.9},{"s":"white","i":56.4,"v":1818.2},{"s":"white","i":61.9,"v":1813.6},{"s":"white","i":70.2,"v":1806.9},{"s":"white","i":78.7,"v":1802.9},{"s":"white","i":86.9,"v":1800.3},{"s":"white","i":95.2,"v":1796.3},{"s":"white","i":101.9,"v":1793},{"s":"white","i":108.7,"v":1786.3},{"s":"white","i":115.2,"v":1781.7},{"s":"white","i":120.2,"v":1778.3},{"s":"white","i":126.9,"v":1777},{"s":"white","i":143.2,"v":1774.3},{"s":"white","i":158.2,"v":1773.7},{"s":"white","i":173.2,"v":1775},{"s":"white","i":188.2,"v":1781.7},{"s":"white","i":198.2,"v":1791.6},{"s":"white","i":210.7,"v":1806.9},{"s":"white","i":223.2,"v":1818.2},{"s":"white","i":235.7,"v":1829.5},{"s":"white","i":248.2,"v":1841.5},{"s":"white","i":260.7,"v":1854.8},{"s":"white","i":273.2,"v":1866.7},{"s":"white","i":288.9,"v":1881.3},{"s":"white","i":296.4,"v":1892.6},{"s":"white","i":299.9,"v":1896.6},{"s":"white","i":306.4,"v":1905.9},{"s":"white","i":311.4,"v":1907.9},{"s":"white","i":315.7,"v":1911.2},
{"s":"orange","i":0,"v":1828.2},{"s":"orange","i":6.4,"v":1823.5},{"s":"orange","i":14.9,"v":1820.2},{"s":"orange","i":23.2,"v":1816.9},{"s":"orange","i":31.4,"v":1816.2},{"s":"orange","i":39.9,"v":1813.6},{"s":"orange","i":48.2,"v":1811.6},{"s":"orange","i":56.4,"v":1808.3},{"s":"orange","i":63.2,"v":1806.3},{"s":"orange","i":70.2,"v":1803.6},{"s":"orange","i":78.7,"v":1800.9},{"s":"orange","i":86.9,"v":1799.6},{"s":"orange","i":95.2,"v":1798.9},{"s":"orange","i":103.7,"v":1798.9},{"s":"orange","i":111.9,"v":1799.6},{"s":"orange","i":120.2,"v":1801.6},{"s":"orange","i":125.7,"v":1802.9},{"s":"orange","i":133.9,"v":1806.3},{"s":"orange","i":142.4,"v":1809.6},{"s":"orange","i":150.7,"v":1810.3},{"s":"orange","i":158.9,"v":1810.3},{"s":"orange","i":167.4,"v":1810.9},{"s":"orange","i":175.7,"v":1812.9},{"s":"orange","i":183.9,"v":1814.9},{"s":"orange","i":190.7,"v":1816.9},{"s":"orange","i":208.2,"v":1828.2},{"s":"orange","i":234.2,"v":1836.8},{"s":"orange","i":260.2,"v":1839.5},{"s":"orange","i":286.4,"v":1840.8},{"s":"orange","i":315.4,"v":1844.1}
]
},
"layer":[
{"data":{"name":"months"},"mark":{"type":"rule","color":"#FFFFFF","strokeWidth":1,"strokeDash":[4,2]},
 "encoding":{"x":{"field":"i","type":"quantitative","title":null,"scale":{"domain":[-0.125,397.875],"nice":false,"zero":false},
  "axis":{"orient":"bottom","title":null,"values":[0,16,32,48,64,80,96,112,128,144,160,176,192,208,224,240,256,272,288,304],
   "labelExpr":"['11 Aug 2022','30 Aug 2022','18 Sep 2022','6 Oct 2022','25 Oct 2022','13 Nov 2022','1 Dec 2022','20 Dec 2022','10 Jan 2023','29 Jan 2023','16 Feb 2023','7 Mar 2023','26 Mar 2023','14 Apr 2023','3 May 2023','22 May 2023','9 Jun 2023','28 Jun 2023','17 Jul 2023','4 Aug 2023'][round(datum.value/16)]",
   "labelAlign":"left","labelBaseline":"top","labelPadding":2,"labelOffset":-1,"tickSize":3,"labelOverlap":false}}}},
{"data":{"name":"bid"},"mark":{"type":"rule","color":"#778899","strokeWidth":1},
 "encoding":{"y":{"field":"p","type":"quantitative","title":null,"scale":{"domain":[1602.92,2109.27],"nice":false,"zero":false},
  "axis":{"orient":"right","title":null,"values":[2086.6,2064.5,2043.05,2020.95,1998.85,1976.75,1955.3,1933.2,1911.1,1889.65,1867.55,1845.45,1824.0,1801.9,1779.8,1757.7,1736.25,1714.15,1692.05,1670.6,1648.5,1626.4,1604.95],
   "format":".2f","labelAlign":"left","labelBaseline":"middle","labelPadding":2,"tickSize":4,"labelOverlap":false,"labelSeparation":0,"tickCount":23}}}},
{"data":{"name":"candles"},"mark":{"type":"rule","color":"#00FF00","strokeWidth":1},
 "encoding":{"x":{"field":"i","type":"quantitative","title":null},"y":{"field":"l","type":"quantitative","title":null},"y2":{"field":"h"}}},
{"data":{"name":"candles"},"mark":{"type":"bar","width":2,"stroke":"#00FF00","strokeWidth":1},
 "encoding":{"x":{"field":"i","type":"quantitative","title":null},"y":{"field":"o","type":"quantitative","title":null},"y2":{"field":"c"},
  "fill":{"condition":{"test":"datum.c >= datum.o","value":"#000000"},"value":"#FFFFFF"}}},
{"data":{"name":"ma"},"mark":{"type":"line","strokeWidth":1},
 "encoding":{"x":{"field":"i","type":"quantitative","title":null},"y":{"field":"v","type":"quantitative","title":null},
  "color":{"field":"s","type":"nominal","legend":null,"scale":{"domain":["orange","white","green","blue","red","yellow"],"range":["#F4A460","#D3D3D3","#008000","#0000FF","#FF0000","#FFFF00"]}}}},
{"data":{"name":"fib"},"mark":{"type":"rule","color":"#C71585","strokeWidth":2},
 "encoding":{"x":{"datum":41,"type":"quantitative"},"x2":{"datum":397.875},"y":{"field":"p","type":"quantitative","title":null}}},
{"data":{"name":"fibline"},"mark":{"type":"rule","color":"#FF0000","strokeWidth":1,"strokeDash":[2,2]},
 "encoding":{"x":{"field":"i1","type":"quantitative","title":null},"x2":{"field":"i2"},"y":{"field":"p1","type":"quantitative","title":null},"y2":{"field":"p2"}}},
{"data":{"name":"fib"},"mark":{"type":"text","color":"#C71585","align":"right","baseline":"bottom","dx":-2,"dy":-1,"font":"Liberation Sans, Arial, sans-serif","fontSize":9},
 "encoding":{"x":{"datum":397.875,"type":"quantitative"},"y":{"field":"p","type":"quantitative","title":null},"text":{"field":"lvl"}}},
{"data":{"name":"bid"},"mark":{"type":"bar","height":10,"fill":"#FFFFFF"},
 "encoding":{"x":{"datum":398.4,"type":"quantitative"},"x2":{"datum":408.6},"y":{"field":"p","type":"quantitative","title":null}}},
{"data":{"name":"bid"},"mark":{"type":"text","color":"#000000","align":"left","baseline":"middle","dx":3,"font":"Liberation Sans, Arial, sans-serif","fontSize":10},
 "encoding":{"x":{"datum":398.4,"type":"quantitative"},"y":{"field":"p","type":"quantitative","title":null},"text":{"field":"p","type":"quantitative","format":".2f"}}}
],
"config":{"view":{"stroke":"#FFFFFF","strokeWidth":1},
 "axis":{"labelColor":"#FFFFFF","tickColor":"#FFFFFF","labelFont":"Liberation Sans, Arial, sans-serif","labelFontSize":10,"domain":false,"grid":false,"labelOverlap":false,"labelFlush":false,"labelBound":false}}
}
